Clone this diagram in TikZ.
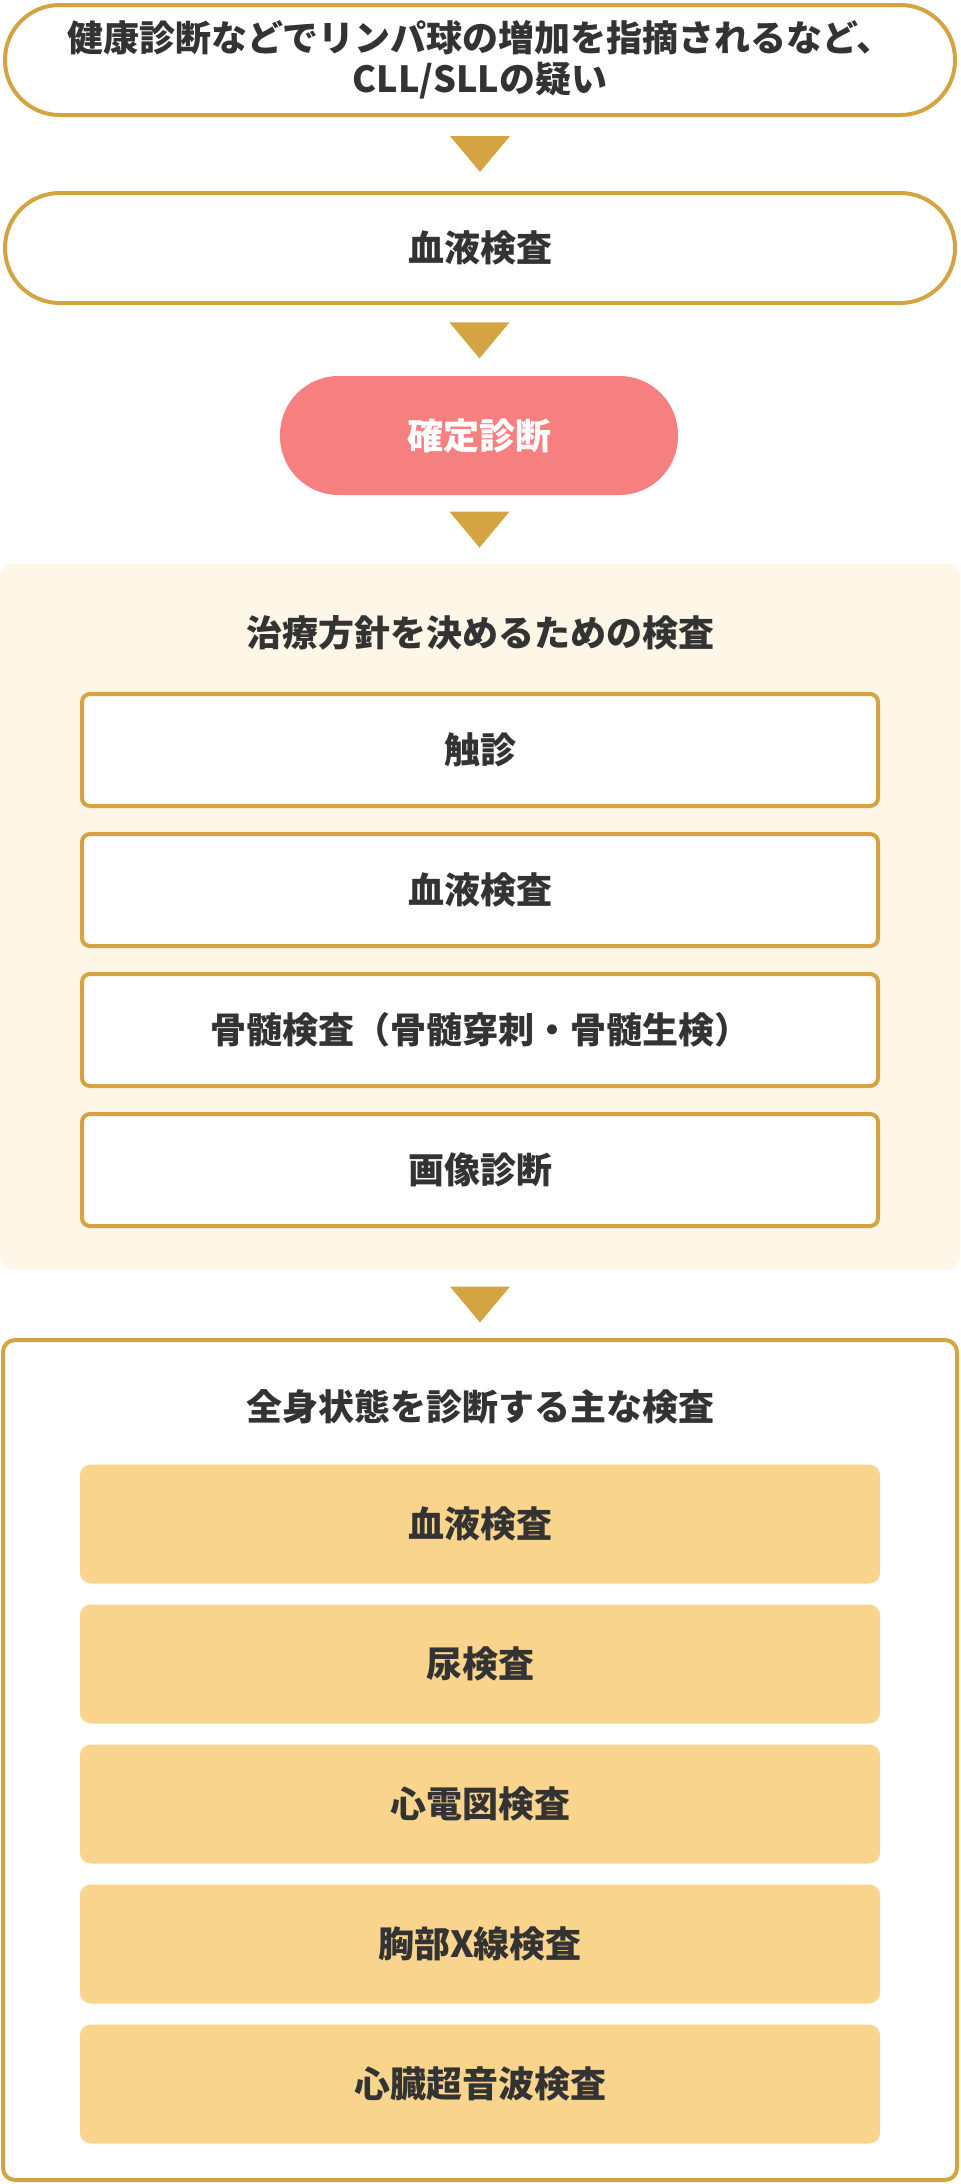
\documentclass[tikz,border=0pt]{standalone}
\usepackage{fontspec}
\usepackage{xcolor}
\usetikzlibrary{calc}
\newfontfamily\jpfont{Noto Sans CJK JP}

\definecolor{gold}{HTML}{D4A443}
\definecolor{cream}{HTML}{FEF6E6}
\definecolor{salmon}{HTML}{F67F7F}
\definecolor{wheat}{HTML}{F9D48D}
\definecolor{ink}{HTML}{333333}

\tikzset{
  label font/.style={font=\jpfont\bfseries\fontsize{27}{31}\selectfont},
  stadium/.style={label font, draw=gold, line width=3pt, fill=white, text=ink,
    rounded corners=41pt, minimum width=712.5pt, minimum height=82.5pt, inner sep=0pt, align=center},
  verdict/.style={label font, fill=salmon, text=white, rounded corners=44pt,
    minimum width=298.5pt, minimum height=89.25pt, inner sep=0pt},
  testbox/.style={label font, draw=gold, line width=3pt, fill=white, text=ink,
    rounded corners=6pt, minimum width=597pt, minimum height=84pt, inner sep=0pt},
  checkbox/.style={label font, fill=wheat, text=ink, rounded corners=8pt,
    minimum width=600pt, minimum height=89.25pt, inner sep=0pt},
  heading/.style={label font, text=ink, inner sep=0pt},
  flow/.style={fill=gold}
}

\begin{document}
\begin{tikzpicture}[x=0.75pt,y=-0.75pt]
                \useasboundingbox (0,0) rectangle (960,2184);

                % panels
                \fill[cream, rounded corners=9pt] (0,564) rectangle (960,1269);
                \draw[gold, line width=3pt, rounded corners=9pt] (3,1340) rectangle (957,2180);

                \node (doubt) at (480,60) [stadium] {健康診断などでリンパ球の増加を指摘されるなど、\\CLL/SLLの疑い};
                \node (blood) at (480,248) [stadium] {血液検査};
                \node (diag) at (479,435.5) [verdict] {確定診断};

                \coordinate (plantop) at (480,564);
                \node (plan) at (480,633) [heading] {治療方針を決めるための検査};
                \node (palp) at (480,750) [testbox] {触診};
                \node (pblood) at (480,890) [testbox] {血液検査};
                \node (marrow) at (480,1030) [testbox] {骨髄検査（骨髄穿刺・骨髄生検）};
                \node (image) at (480,1170) [testbox] {画像診断};
                \coordinate (planend) at (480,1269);

                \coordinate (statetop) at (480,1340);
                \node (state) at (480,1407) [heading] {全身状態を診断する主な検査};
                \node (sblood) at (480,1524) [checkbox] {血液検査};
                \node (urine) at (480,1664) [checkbox] {尿検査};
                \node (ecg) at (480,1804) [checkbox] {心電図検査};
                \node (xray) at (480,1944) [checkbox] {胸部X線検査};
                \node (echo) at (480,2084) [checkbox] {心臓超音波検査};

                \foreach \from/\to in {doubt.south/blood.north, blood.south/diag.north, diag.south/plantop, planend/statetop}
                    \fill[flow] ($(\from)!0.5!(\to)$) ++(-30,-18) -- ++(60,0) -- ++(-30,36) -- cycle;

            \end{tikzpicture}
\end{document}
